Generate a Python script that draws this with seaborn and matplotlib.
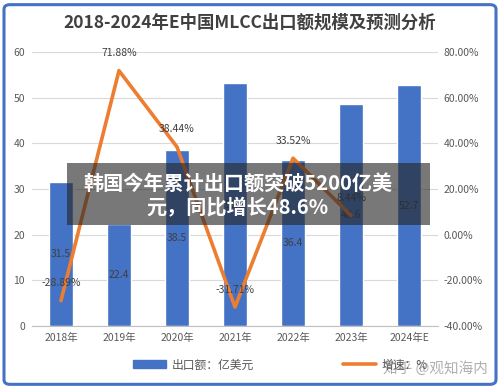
import numpy as np
import pandas as pd
import matplotlib
matplotlib.use("Agg")
import matplotlib.pyplot as plt
import seaborn as sns
from matplotlib.patches import FancyBboxPatch, Patch
from matplotlib.lines import Line2D

# chart data
years = ["2018年", "2019年", "2020年", "2021年", "2022年", "2023年", "2024年E"]
export_value = [31.5, 22.4, 38.5, 53.2, 36.4, 48.6, 52.7]
growth_pct = [-28.89, 71.88, 38.44, -31.71, 33.52, 8.44, np.nan]
left_ticks = [0, 10, 20, 30, 40, 50, 60]
right_ticks = [-40, -20, 0, 20, 40, 60, 80]

sns.set_style("white")
plt.rcParams["font.family"] = ["Noto Sans CJK SC", "DejaVu Sans"]

BLUE = "#4472C4"
ORANGE = "#ED7D31"
GREY = "#595959"

df = pd.DataFrame({"year": years, "value": export_value, "growth": growth_pct})
df["pos"] = np.arange(len(df))

fig = plt.figure(figsize=(5.0, 3.89), dpi=100)

# outer frame of the screenshot
frame = FancyBboxPatch((0.008, 0.012), 0.984, 0.976, boxstyle="round,pad=0,rounding_size=0.012",
                       transform=fig.transFigure, fill=False, edgecolor=BLUE, linewidth=2.2)
fig.patches.append(frame)

ax = fig.add_axes([0.064, 0.162, 0.812, 0.704])
sns.barplot(data=df, x="year", y="value", color=BLUE, width=0.4, saturation=1, ax=ax, zorder=2)
ax.set_ylim(0, 60)
ax.set_yticks(left_ticks)
ax.set_xlim(-0.5, 6.5)
ax.grid(axis="y", color="#D9D9D9", linewidth=0.8, zorder=0)
ax.set_axisbelow(True)
for s in ["top", "left", "right"]:
    ax.spines[s].set_visible(False)
ax.spines["bottom"].set_color("#BFBFBF")
ax.set_xlabel("")
ax.set_ylabel("")
ax.tick_params(axis="both", length=0, labelsize=7.5, colors=GREY, pad=5)

# bar labels at the middle of each bar
for i, v in enumerate(export_value):
    ax.text(i, v / 2, f"{v}", ha="center", va="center", fontsize=7.5, color="#404040", zorder=4)

ax2 = ax.twinx()
sns.lineplot(data=df.dropna(), x="pos", y="growth", color=ORANGE, linewidth=2.6, ax=ax2, zorder=3)
ax2.set_ylim(-40, 80)
ax2.set_yticks(right_ticks)
ax2.set_yticklabels([f"{t:.2f}%" for t in right_ticks])
ax2.set_xlim(-0.5, 6.5)
for s in ax2.spines.values():
    s.set_visible(False)
ax2.set_ylabel("")
ax2.tick_params(axis="y", length=0, labelsize=7.5, colors=GREY, pad=4)

for i, g in enumerate(growth_pct):
    if not np.isnan(g):
        ax2.text(i, g + 5.5, f"{g:.2f}%", ha="center", va="bottom", fontsize=7.5, color="#404040", zorder=4)

fig.text(0.5, 0.943, "2018-2024年E中国MLCC出口额规模及预测分析", ha="center", va="center",
         fontsize=12.5, fontweight="bold", color="#404040")

handles = [Patch(facecolor=BLUE, edgecolor=BLUE), Line2D([0], [0], color=ORANGE, linewidth=2.6)]
fig.legend(handles, ["出口额：亿美元", "增速：%"], loc="center left", bbox_to_anchor=(0.245, 0.062),
           ncol=2, frameon=False, fontsize=8.5, labelcolor=GREY, columnspacing=7.5,
           handlelength=2.8, handletextpad=0.5)

fig.text(0.87, 0.052, "知乎 @观知海内", ha="center", va="center", fontsize=10.5, color="#A6A6A6", alpha=0.9)

# dark overlay banner
banner = FancyBboxPatch((0.134, 1 - 225 / 389), 0.726, 62 / 389, boxstyle="square,pad=0",
                        transform=fig.transFigure, facecolor="#262626", alpha=0.62, edgecolor="none", zorder=10)
fig.patches.append(banner)
fig.text(0.475, 1 - 195 / 389, "韩国今年累计出口额突破5200亿美\n元，同比增长48.6%", ha="center", va="center",
         fontsize=14.5, fontweight="bold", color="white", linespacing=1.2, zorder=11)

fig.savefig("out.png", dpi=100)
